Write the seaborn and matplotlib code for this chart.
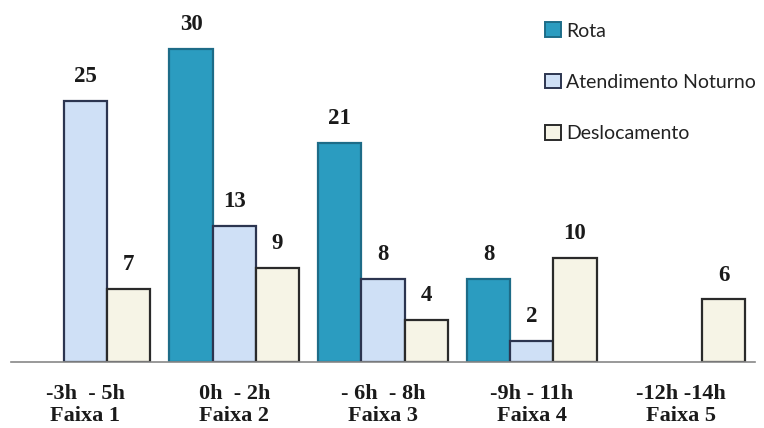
import numpy as np
import pandas as pd
import seaborn as sns
import matplotlib.pyplot as plt
from matplotlib.patches import Patch

# Values (NaN = no bar)
faixas = ["-3h  - 5h\nFaixa 1", "0h  - 2h\nFaixa 2", "- 6h  - 8h\nFaixa 3",
          "-9h - 11h\nFaixa 4", "-12h -14h\nFaixa 5"]
series = ["Rota", "Atendimento Noturno", "Deslocamento"]
rota = [np.nan, 30, 21, 8, np.nan]
atendimento = [25, 13, 8, 2, np.nan]
deslocamento = [7, 9, 4, 10, 6]

colors = ["#2b9cc0", "#cfe0f6", "#f6f4e6"]
edges = ["#1d6c88", "#2c3550", "#2a2a2a"]

df = pd.DataFrame({
    "Faixa": faixas * 3,
    "Serie": [s for s in series for _ in faixas],
    "Valor": rota + atendimento + deslocamento,
})

sns.set_style("white")
fig = plt.figure(figsize=(7.64, 4.28), dpi=100)
ax = fig.add_axes([11 / 764, 66 / 428, 744 / 764, 362 / 428])

sns.barplot(data=df, x="Faixa", y="Valor", hue="Serie", order=faixas,
            hue_order=series, palette=colors, width=0.87, ax=ax,
            legend=False, errorbar=None, saturation=1)

for container, ec in zip(ax.containers, edges):
    for bar in container:
        bar.set_edgecolor(ec)
        bar.set_linewidth(1.6)
    vals = [v for v in container.datavalues]
    labels = ["" if np.isnan(v) else f"{int(v)}" for v in vals]
    ax.bar_label(container, labels=labels, padding=10,
                 fontfamily="Liberation Serif", fontweight="bold", fontsize=16.5,
                 color="#1a1a1a")

ax.set_xlim(-0.5, 4.5)
ax.set_ylim(0, 34.7)
ax.set_xlabel("")
ax.set_ylabel("")
ax.set_yticks([])
for side in ["top", "right", "left"]:
    ax.spines[side].set_visible(False)
ax.spines["bottom"].set_color("#888888")
ax.spines["bottom"].set_linewidth(1.2)

ax.set_xticks(np.arange(-0.5, 5, 1), minor=True)
ax.tick_params(axis="x", which="minor", length=6, color="#888888", width=1.2,
               direction="out")
ax.tick_params(axis="x", which="major", length=0, pad=16)
for lbl in ax.get_xticklabels():
    lbl.set_fontfamily("Liberation Serif")
    lbl.set_fontweight("bold")
    lbl.set_fontsize(16)
    lbl.set_linespacing(1.12)
    lbl.set_color("#1a1a1a")

handles = [Patch(facecolor=c, edgecolor=e, linewidth=1.4) for c, e in zip(colors, edges)]
leg = ax.legend(handles, series, loc="upper left", bbox_to_anchor=(523 / 764, 1.0),
                bbox_transform=fig.transFigure, frameon=False,
                handlelength=0.8, handleheight=0.8, handletextpad=0.25,
                labelspacing=1.75, borderaxespad=0.75,
                prop={"family": "Lato", "size": 14})
for t in leg.get_texts():
    t.set_color("#222222")

fig.savefig("out.png", dpi=100)
